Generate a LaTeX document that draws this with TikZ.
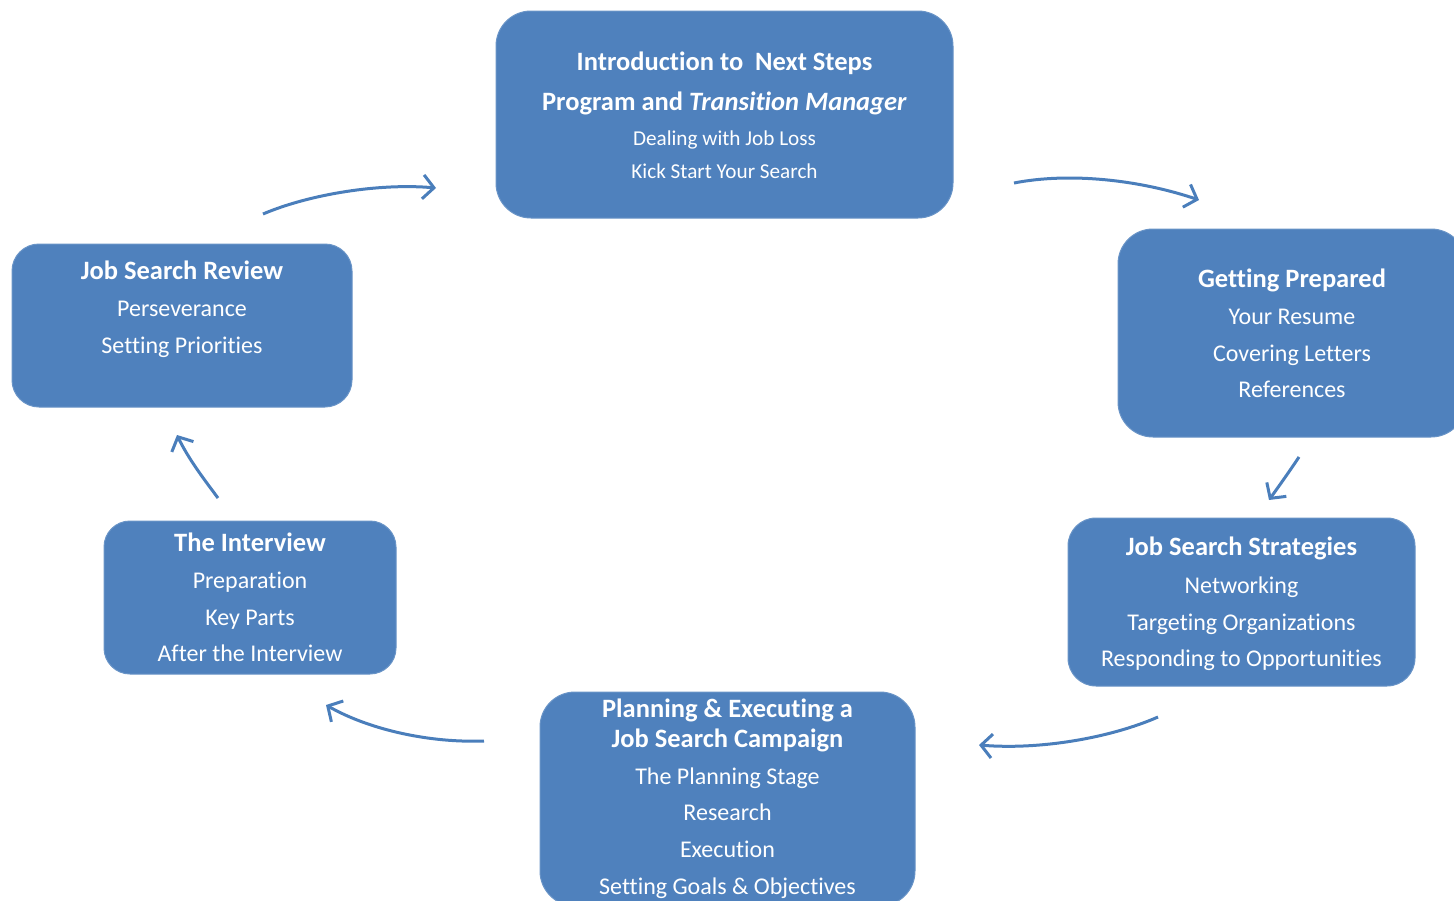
\documentclass[tikz,border=0pt]{standalone}
\usepackage{fontspec}
\setmainfont[RawFeature={-liga;-clig;-dlig;-calt}]{Carlito}
\usetikzlibrary{arrows.meta}
\definecolor{boxblue}{HTML}{4F81BD}
\definecolor{arrblue}{HTML}{4A7EBB}
\tikzset{
  box/.style={fill=boxblue, draw=boxblue!85!white, line width=1pt, inner sep=0pt},
  ttl/.style={text=white, font=\fontsize{26.5}{28}\selectfont\bfseries, inner sep=0pt, text height=17pt, text depth=0pt},
  itm/.style={text=white, font=\fontsize{24}{26}\selectfont, inner sep=0pt, text height=15pt, text depth=0pt},
  sitm/.style={text=white, font=\fontsize{21.2}{23}\selectfont, inner sep=0pt, text height=13.5pt, text depth=0pt},
  ttop/.style={text=white, font=\fontsize{26.5}{28}\selectfont\bfseries, inner sep=0pt, text height=17pt, text depth=0pt},
  flow/.style={draw=arrblue, line width=3pt, -{Straight Barb[length=11pt, width=24pt, line width=3pt]}}
}
\begin{document}
\begin{tikzpicture}[x=1pt, y=-1pt]
\clip (0,0) rectangle (1454,900);
% boxes
\node[box, rounded corners=35pt, minimum width=457pt, minimum height=207pt] (b1) at (724.5,114.5) {};
\node[box, rounded corners=35pt, minimum width=348pt, minimum height=208pt] (b2) at (1292,333) {};
\node[box, rounded corners=28pt, minimum width=347pt, minimum height=168pt] (b3) at (1241.5,602) {};
\node[box, rounded corners=35pt, minimum width=375pt, minimum height=214pt] (b4) at (727.5,799) {};
\node[box, rounded corners=26pt, minimum width=292pt, minimum height=153pt] (b5) at (250,597.5) {};
\node[box, rounded corners=27pt, minimum width=340pt, minimum height=163pt] (b6) at (182,325.5) {};
% top box text
\node[ttop] (t1a) at (724.5,61.5) {Introduction to~~Next Steps};
\node[ttop] (t1b) at (724.5,101.5) {Program and \textit{Transition Manager}};
\node[sitm] (t1c) at (724.5,139) {Dealing with Job Loss};
\node[sitm] (t1d) at (724.5,172) {Kick Start Your Search};
% getting prepared
\node[ttl] (t2a) at (1292,278.5) {Getting Prepared};
\node[itm] (t2b) at (1292,317) {Your Resume};
\node[itm] (t2c) at (1292,354) {Covering Letters};
\node[itm] (t2d) at (1292,390) {References};
% strategies
\node[ttl] (t3a) at (1241.5,546.5) {Job Search Strategies};
\node[itm] (t3b) at (1241.5,586) {Networking};
\node[itm] (t3c) at (1241.5,623) {Targeting Organizations};
\node[itm] (t3d) at (1241.5,659) {Responding to Opportunities};
% planning
\node[ttl] (t4a) at (727.5,708.5) {Planning \& Executing a};
\node[ttl] (t4b) at (727.5,738.5) {Job Search Campaign};
\node[itm] (t4c) at (727.5,777) {The Planning Stage};
\node[itm] (t4d) at (727.5,813) {Research};
\node[itm] (t4e) at (727.5,850) {Execution};
\node[itm] (t4f) at (727.5,887) {Setting Goals \& Objectives};
% interview
\node[ttl] (t5a) at (250,542.5) {The Interview};
\node[itm] (t5b) at (250,581) {Preparation};
\node[itm] (t5c) at (250,618) {Key Parts};
\node[itm] (t5d) at (250,654) {After the Interview};
% review
\node[ttl] (t6a) at (182,270.5) {Job Search Review};
\node[itm] (t6b) at (182,309) {Perseverance};
\node[itm] (t6c) at (182,346) {Setting Priorities};
% arrow end points
\coordinate (a1s) at (1014,183); \coordinate (a1e) at (1199,200);
\coordinate (a2s) at (1299,457); \coordinate (a2e) at (1269,500);
\coordinate (a3s) at (1158,717); \coordinate (a3e) at (979,745);
\coordinate (a4s) at (484,741);  \coordinate (a4e) at (326,705);
\coordinate (a5s) at (218,498);  \coordinate (a5e) at (177,435);
\coordinate (a6s) at (263,214);  \coordinate (a6e) at (436,188);
\draw[flow] (a1s) .. controls (1070,172) and (1140,180) .. (a1e);
\draw[flow] (a2s) .. controls (1289,472) and (1279,486) .. (a2e);
\draw[flow] (a3s) .. controls (1110,738) and (1040,750) .. (a3e);
\draw[flow] (a4s) .. controls (430,743) and (370,730) .. (a4e);
\draw[flow] (a5s) .. controls (203,478) and (188,458) .. (a5e);
\draw[flow] (a6s) .. controls (310,194) and (380,183) .. (a6e);
\end{tikzpicture}
\end{document}
